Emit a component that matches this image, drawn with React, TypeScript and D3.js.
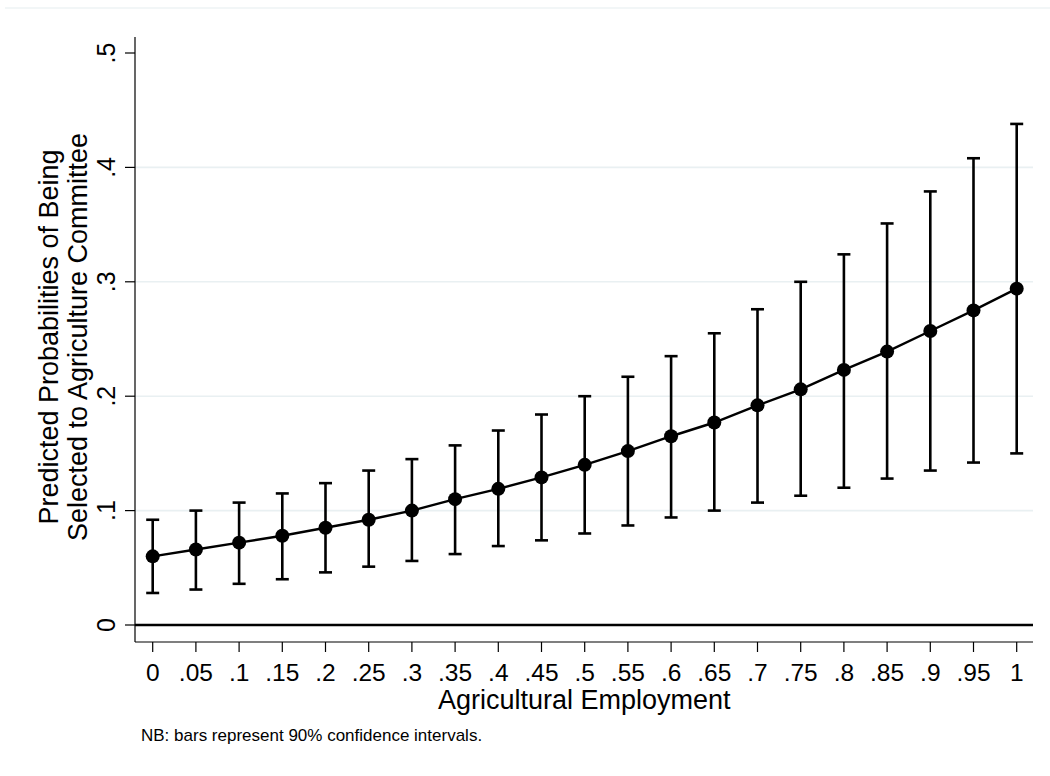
import React from 'react';
import * as d3 from 'd3';

// values
const employment = [0, 0.05, 0.1, 0.15, 0.2, 0.25, 0.3, 0.35, 0.4, 0.45, 0.5, 0.55, 0.6, 0.65, 0.7, 0.75, 0.8, 0.85, 0.9, 0.95, 1];
const predicted = [0.060, 0.066, 0.072, 0.078, 0.085, 0.092, 0.100, 0.110, 0.119, 0.129, 0.140, 0.152, 0.165, 0.177, 0.192, 0.206, 0.223, 0.239, 0.257, 0.275, 0.294];
const lower = [0.028, 0.031, 0.036, 0.040, 0.046, 0.051, 0.056, 0.062, 0.069, 0.074, 0.080, 0.087, 0.094, 0.100, 0.107, 0.113, 0.120, 0.128, 0.135, 0.142, 0.150];
const upper = [0.092, 0.100, 0.107, 0.115, 0.124, 0.135, 0.145, 0.157, 0.170, 0.184, 0.200, 0.217, 0.235, 0.255, 0.276, 0.300, 0.324, 0.351, 0.379, 0.408, 0.438];
const yTicks = [0, 0.1, 0.2, 0.3, 0.4, 0.5];
const gridTicks = [0.1, 0.2, 0.3, 0.4];

const xTitle = 'Agricultural Employment';
const yTitle = ['Predicted Probabilities of Being', 'Selected to Agriculture Committee'];
const note = 'NB: bars represent 90% confidence intervals.';

// Stata-style label: drop the leading zero
const fmt = (v: number) => {
  const s = d3.format('~g')(+v.toFixed(2));
  return s.startsWith('0.') ? s.slice(1) : s;
};

const App = () => {
  const width = 1050;
  const height = 776;
  const plot = { left: 135, right: 1033, top: 37, bottom: 642 };

  const x = d3.scaleLinear().domain([0, 1]).range([152.7, 1016.7]);
  const y = d3.scaleLinear().domain([0, 0.5]).range([625, 53]);

  const line = d3.line<number>()
    .x((_, i) => x(employment[i]))
    .y(d => y(d));

  const font = '"Liberation Sans", Arial, Helvetica, sans-serif';
  const cap = 6.5;

  return (
    <svg width={width} height={height} style={{ position: 'absolute', left: 0, top: 0, background: '#fff' }} fontFamily={font}>
      <rect x={0} y={0} width={width} height={height} fill="#fff" />
      <line x1={5} x2={width} y1={8} y2={8} stroke="#e6eef0" strokeWidth={1.2} />

      {/* gridlines */}
      {gridTicks.map(t => (
        <line key={'g' + t} x1={plot.left} x2={plot.right} y1={y(t)} y2={y(t)} stroke="#e9f0f2" strokeWidth={1.6} />
      ))}

      {/* zero line */}
      <line x1={plot.left} x2={plot.right} y1={y(0)} y2={y(0)} stroke="#000" strokeWidth={2.6} />

      {/* axes */}
      <line x1={plot.left} x2={plot.left} y1={plot.top} y2={plot.bottom} stroke="#000" strokeWidth={1.2} />
      <line x1={plot.left} x2={plot.right} y1={plot.bottom} y2={plot.bottom} stroke="#000" strokeWidth={1.2} />

      {/* y ticks */}
      {yTicks.map(t => (
        <g key={'y' + t}>
          <line x1={plot.left - 10} x2={plot.left} y1={y(t)} y2={y(t)} stroke="#000" strokeWidth={1.2} />
          <text transform={`translate(115,${y(t)}) rotate(-90)`} textAnchor="middle" fontSize={25}>{fmt(t)}</text>
        </g>
      ))}

      {/* x ticks */}
      {employment.map(t => (
        <g key={'x' + t}>
          <line x1={x(t)} x2={x(t)} y1={plot.bottom} y2={plot.bottom + 10} stroke="#000" strokeWidth={1.2} />
          <text x={x(t)} y={681} textAnchor="middle" fontSize={24.5}>{fmt(t)}</text>
        </g>
      ))}

      {/* error bars */}
      {employment.map((e, i) => (
        <g key={'e' + e} stroke="#000" strokeWidth={2.6}>
          <line x1={x(e)} x2={x(e)} y1={y(lower[i])} y2={y(upper[i])} />
          <line x1={x(e) - cap} x2={x(e) + cap} y1={y(lower[i])} y2={y(lower[i])} />
          <line x1={x(e) - cap} x2={x(e) + cap} y1={y(upper[i])} y2={y(upper[i])} />
        </g>
      ))}

      {/* predicted line and markers */}
      <path d={line(predicted) || ''} fill="none" stroke="#000" strokeWidth={2.4} />
      {predicted.map((p, i) => (
        <circle key={'p' + i} cx={x(employment[i])} cy={y(p)} r={7} fill="#000" />
      ))}

      {/* titles */}
      <text x={x(0.5) - 0.5} y={709} textAnchor="middle" fontSize={27}>{xTitle}</text>
      {yTitle.map((t, i) => (
        <text key={t} transform={`translate(${58 + i * 29},${337}) rotate(-90)`} textAnchor="middle" fontSize={27}>{t}</text>
      ))}
      <text x={141} y={741} fontSize={17}>{note}</text>
    </svg>
  );
};

export default App;
